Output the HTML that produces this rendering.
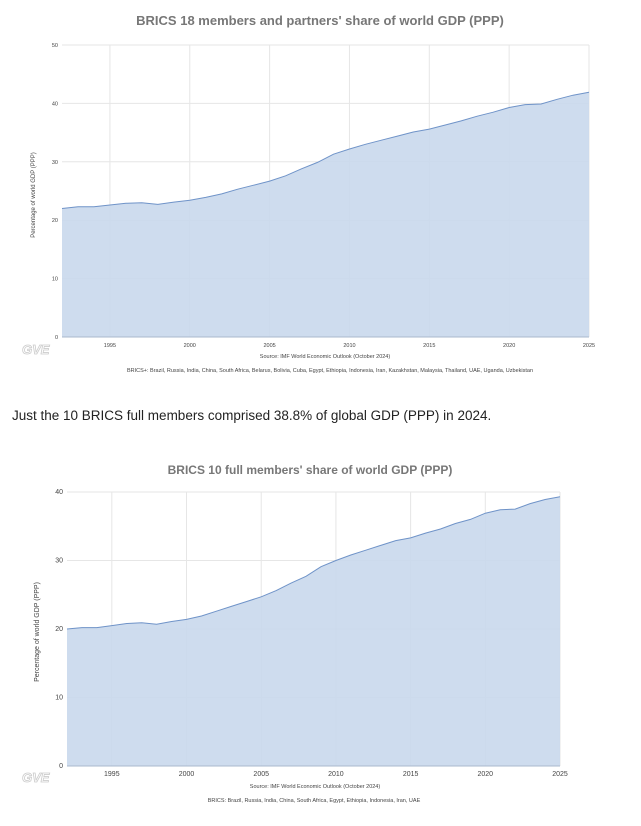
<!DOCTYPE html>
<html><head><meta charset="utf-8"><style>
body{margin:0;background:#fff;width:641px;height:826px;overflow:hidden;font-family:"Liberation Sans",sans-serif}
svg{position:absolute;left:0;top:0}
</style></head><body>
<svg width="641" height="826" id="s" font-family="Liberation Sans, sans-serif">
<text x="320" y="25" text-anchor="middle" font-size="13" font-weight="bold" fill="#777">BRICS 18 members and partners' share of world GDP (PPP)</text>
<text x="12" y="420" font-size="13.5" fill="#222">Just the 10 BRICS full members comprised 38.8% of global GDP (PPP) in 2024.</text>
<text x="310" y="474" text-anchor="middle" font-size="12" font-weight="bold" fill="#777">BRICS 10 full members' share of world GDP (PPP)</text>
<text x="325" y="358" text-anchor="middle" font-size="5.5" fill="#444">Source: IMF World Economic Outlook (October 2024)</text>
<text x="330" y="372" text-anchor="middle" font-size="5.5" fill="#444">BRICS+: Brazil, Russia, India, China, South Africa, Belarus, Bolivia, Cuba, Egypt, Ethiopia, Indonesia, Iran, Kazakhstan, Malaysia, Thailand, UAE, Uganda, Uzbekistan</text>
<text x="315" y="788" text-anchor="middle" font-size="5.5" fill="#444">Source: IMF World Economic Outlook (October 2024)</text>
<text x="314" y="802" text-anchor="middle" font-size="5.5" fill="#444">BRICS: Brazil, Russia, India, China, South Africa, Egypt, Ethiopia, Indonesia, Iran, UAE</text>
<text x="22" y="354" font-size="13" font-style="italic" font-weight="bold" fill="none" stroke="#ccc" stroke-width="0.8">GVE</text>
<text x="22" y="782" font-size="13" font-style="italic" font-weight="bold" fill="none" stroke="#ccc" stroke-width="0.8">GVE</text>
<text transform="translate(35,195) rotate(-90)" text-anchor="middle" font-size="6" fill="#444">Percentage of world GDP (PPP)</text>
<text transform="translate(39,632) rotate(-90)" text-anchor="middle" font-size="7" fill="#444">Percentage of world GDP (PPP)</text>
</svg>
<script>
var d1=[22,22.3,22.3,22.6,22.9,23.0,22.7,23.1,23.4,23.9,24.5,25.3,26.0,26.7,27.6,28.8,29.9,31.3,32.2,33.0,33.7,34.4,35.1,35.6,36.3,37.0,37.8,38.5,39.3,39.8,39.9,40.7,41.4,41.9];
var d2=[20.0,20.2,20.2,20.5,20.8,20.9,20.7,21.1,21.4,21.9,22.6,23.3,24.0,24.7,25.6,26.7,27.7,29.1,30.0,30.8,31.5,32.2,32.9,33.3,34.0,34.6,35.4,36.0,36.9,37.4,37.5,38.3,38.9,39.3];
var s=document.getElementById('s'),h='';
function chart(d,x0,x1,y0,ppu,max,step,fs){
 var px=(x1-x0)/33,g='';
 for(var v=0;v<=max;v+=step){var y=y0-v*ppu;g+='<line x1="'+x0+'" x2="'+x1+'" y1="'+y+'" y2="'+y+'" stroke="#e6e6e6"/>';h+='<text x="'+(x0-4)+'" y="'+(y+2)+'" text-anchor="end" font-size="'+fs+'" fill="#444">'+v+'</text>';}
 for(var yr=1995;yr<=2025;yr+=5){var x=x0+(yr-1992)*px;g+='<line x1="'+x+'" x2="'+x+'" y1="'+(y0-max*ppu)+'" y2="'+y0+'" stroke="#e6e6e6"/>';h+='<text x="'+x+'" y="'+(y0+10)+'" text-anchor="middle" font-size="'+fs+'" fill="#444">'+yr+'</text>';}
 var p='';for(var i=0;i<d.length;i++){p+=(i?'L':'M')+(x0+i*px).toFixed(1)+','+(y0-d[i]*ppu).toFixed(1);}
 h+=g;
 h+='<path d="'+p+'L'+x1+','+y0+'L'+x0+','+y0+'Z" fill="#c9d8ec" fill-opacity="0.9"/>';
 h+='<path d="'+p+'" fill="none" stroke="#6f93c8" stroke-width="1"/>';
 h+='<line x1="'+x0+'" x2="'+x1+'" y1="'+y0+'" y2="'+y0+'" stroke="#aab8cc"/>';
}
chart(d1,62,589,337,5.84,50,10,5.5);
chart(d2,67,560,766,6.85,40,10,7);
s.insertAdjacentHTML('afterbegin',h);
</script>
</body></html>
